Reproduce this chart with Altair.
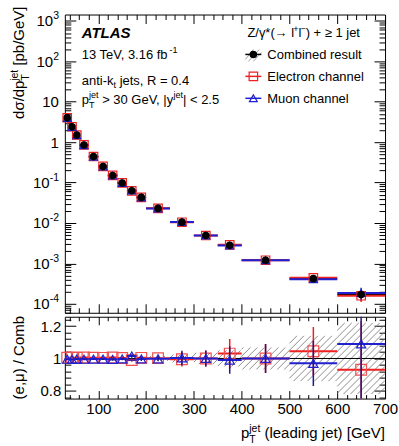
import math
import altair as alt
import pandas as pd

# ---------------- data ----------------
BIN_LO = [30, 40, 50, 60, 80, 100, 120, 140, 160, 180, 200, 250, 300, 350, 400, 500, 600]
BIN_HI = [40, 50, 60, 80, 100, 120, 140, 160, 180, 200, 250, 300, 350, 400, 500, 600, 700]
BIN_CENTER = [35, 45, 55, 70, 90, 110, 130, 150, 170, 190, 225, 275, 325, 375, 450, 550, 650]
COMBINED = [4.0, 2.4, 1.5, 0.85, 0.44, 0.25, 0.15, 0.098, 0.063, 0.043, 0.023, 0.0105,
            0.0049, 0.0028, 0.0012, 0.00042, 0.00017]
RATIO_E = [1.005, 1.006, 1.004, 1.006, 1.005, 1.004, 1.006, 1.003, 0.99, 1.004, 1.002, 0.995,
           1.0, 1.03, 1.0, 1.045, 0.93]
RATIO_MU = [0.995, 0.994, 0.996, 0.995, 0.996, 0.996, 0.994, 0.997, 1.015, 0.997, 0.998, 1.003,
            1.0, 0.99, 1.0, 0.97, 1.09]
ERR_E = [0.004, 0.004, 0.004, 0.004, 0.005, 0.006, 0.007, 0.008, 0.01, 0.012, 0.015, 0.045,
         0.05, 0.09, 0.09, 0.15, 0.3]
ERR_MU = [0.004, 0.004, 0.004, 0.004, 0.005, 0.006, 0.007, 0.008, 0.01, 0.012, 0.015, 0.045,
          0.05, 0.085, 0.09, 0.14, 0.35]
BAND_LO = [200, 250, 300, 350, 400, 500, 600]
BAND_HI = [250, 300, 350, 400, 500, 600, 700]
BAND_HALF = [0.015, 0.025, 0.035, 0.05, 0.068, 0.14, 0.22]

X_TICKS = [100, 200, 300, 400, 500, 600, 700]
Y_DECADES = [-4, -3, -2, -1, 0, 1, 2, 3]
R_TICKS = [0.8, 1.0, 1.2]

# ---------------- layout / style ----------------
W = 321
H_MAIN = 299
H_RATIO = 82
X_DOM = [30, 700]
Y_DOM = [6.0e-5, 1445]
R_DOM = [0.752, 1.258]
FONT = "Liberation Sans"
RED = "#ee2020"
BLUE = "#2020d0"

CW = {' ': 278, '(': 333, ')': 333, '*': 389, '+': 584, ',': 278, '-': 333, '.': 278,
      '/': 278, '<': 584, '=': 584, '>': 584, '[': 278, ']': 278, '|': 260,
      'A': 667, 'C': 722, 'E': 667, 'G': 778, 'L': 556, 'M': 833, 'R': 722, 'S': 667, 'T': 611,
      'V': 667, 'Z': 611,
      'a': 556, 'b': 556, 'c': 500, 'd': 556, 'e': 556, 'f': 278, 'g': 556, 'h': 556, 'i': 222,
      'j': 222, 'k': 500, 'l': 222, 'm': 833, 'n': 556, 'o': 556, 'p': 556, 'r': 333, 's': 500,
      't': 278, 'u': 556, 'y': 500,
      'σ': 600, 'γ': 500, 'μ': 576, '→': 1000, '≥': 549, '−': 584}


def tw(s, size):
    return sum(CW.get(c, 556) for c in s) / 1000.0 * size


def txt(text, x, y, size, angle=0, align="left", weight="normal", style="normal", color="black"):
    return alt.Chart(alt.Data(values=[{"k": 0}])).mark_text(
        text=text, font=FONT, fontSize=size, fontWeight=weight, fontStyle=style,
        angle=angle, align=align, baseline="alphabetic", color=color
    ).encode(x=alt.value(x), y=alt.value(y))


def rich_width(pieces, size):
    small = size * 0.7
    tot = 0
    for kind, t in pieces:
        if kind == "n":
            tot += tw(t, size)
        elif kind in ("sup", "sub"):
            tot += tw(t, small)
        else:
            tot += max(tw(t[0], small), tw(t[1], small))
    return tot


def rich(pieces, x, y, size, angle=0):
    small = size * 0.7
    out = []
    pos = 0
    for kind, t in pieces:
        shift = 0
        if kind == "n":
            stripped = t.lstrip(" ")
            lead = tw(t[:len(t) - len(stripped)], size)
            items = [(stripped, size, 0)]
            w = tw(stripped, size)
            shift = lead
        elif kind == "sup":
            items = [(t, small, size * 0.45)]
            w = tw(t, small)
            shift = -1
        elif kind == "sub":
            items = [(t, small, -size * 0.28)]
            w = tw(t, small)
        else:
            items = [(t[0], small, size * 0.45), (t[1], small, -size * 0.28)]
            w = max(tw(t[0], small), tw(t[1], small))
        for tt, sz, rise in items:
            if angle == 0:
                out.append(txt(tt, x + pos + shift, y - rise, sz))
            else:
                out.append(txt(tt, x - rise, y - pos - shift, sz, angle=270))
        pos += w + shift
    return out


def ax(orient, values, tick, labels=False, **kw):
    return alt.Axis(orient=orient, values=values, tickSize=tick, offset=-tick, domain=False,
                    grid=False, labels=labels, ticks=True, tickColor="black", tickWidth=1,
                    title=None, **kw)


xs = alt.Scale(domain=X_DOM, nice=False, zero=False)
ys = alt.Scale(type="log", domain=Y_DOM, nice=False)
rs = alt.Scale(domain=R_DOM, nice=False, zero=False)

df = pd.DataFrame({"lo": BIN_LO, "hi": BIN_HI, "x": BIN_CENTER, "comb": COMBINED,
                   "re": RATIO_E, "rm": RATIO_MU, "ee": ERR_E, "em": ERR_MU})
df["el"] = df.comb * df.re
df["mu"] = df.comb * df.rm
df["el_lo"] = df.el * (1 - df.ee)
df["el_hi"] = df.el * (1 + df.ee)
df["mu_lo"] = df.mu * (1 - df.em)
df["mu_hi"] = df.mu * (1 + df.em)
df["re_lo"] = df.re - df.ee
df["re_hi"] = df.re + df.ee
df["rm_lo"] = df.rm - df.em
df["rm_hi"] = df.rm + df.em

x_minor = [v for v in range(40, 701, 20) if v % 100 != 0]
y_major = [10.0 ** k for k in Y_DECADES]
y_minor = [m * 10.0 ** k for k in range(-5, 4) for m in range(2, 10)
           if Y_DOM[0] <= m * 10.0 ** k <= Y_DOM[1]]
r_minor = [round(0.76 + 0.04 * i, 2) for i in range(13)]
r_minor = [v for v in r_minor if R_DOM[0] <= v <= R_DOM[1] and v not in (0.8, 1.0, 1.2)]

base = alt.Chart(df)


def carrier(xaxis, yaxis, yfield, yscale):
    return base.mark_point(opacity=0).encode(
        x=alt.X("x:Q", scale=xs, axis=xaxis),
        y=alt.Y(f"{yfield}:Q", scale=yscale, axis=yaxis))


def hrule(yfield, yscale, color, width):
    return base.mark_rule(color=color, strokeWidth=width, clip=True).encode(
        x=alt.X("lo:Q", scale=xs, axis=None), x2="hi:Q",
        y=alt.Y(f"{yfield}:Q", scale=yscale, axis=None))


def vrule(lo, hi, yscale, color, width):
    return base.mark_rule(color=color, strokeWidth=width, clip=True).encode(
        x=alt.X("x:Q", scale=xs, axis=None),
        y=alt.Y(f"{lo}:Q", scale=yscale, axis=None), y2=f"{hi}:Q")


def pts(yfield, yscale, shape, color, size, filled=False):
    if filled:
        m = base.mark_point(shape=shape, filled=True, size=size, color=color, opacity=1)
    else:
        m = base.mark_point(shape=shape, filled=False, size=size, color=color,
                            strokeWidth=1.2, opacity=1)
    return m.encode(x=alt.X("x:Q", scale=xs, axis=None),
                    y=alt.Y(f"{yfield}:Q", scale=yscale, axis=None))


# ---------------- main panel ----------------
main_layers = [
    carrier(ax("bottom", X_TICKS, 9), ax("left", y_major, 11), "comb", ys),
    carrier(ax("bottom", x_minor, 5), ax("left", y_minor, 6), "comb", ys),
    carrier(ax("top", X_TICKS, 9), ax("right", y_major, 11), "comb", ys),
    carrier(ax("top", x_minor, 5), ax("right", y_minor, 6), "comb", ys),
    hrule("comb", ys, "black", 1.2),
    hrule("el", ys, RED, 2), vrule("el_lo", "el_hi", ys, RED, 1.5),
    hrule("mu", ys, BLUE, 2), vrule("mu_lo", "mu_hi", ys, BLUE, 1.5),
    pts("el", ys, "square", RED, 72),
    pts("mu", ys, "triangle-up", BLUE, 62),
    pts("comb", ys, "circle", "black", 58, filled=True),
]

# y tick labels 10^k
for k in Y_DECADES:
    if k == 0:
        parts = ("1", "")
    elif k == 1:
        parts = ("10", "")
    else:
        parts = ("10", "-" + str(-k) if k < 0 else str(k))
    supw = tw(parts[1], 10.5) if parts[1] else 0
    xend = -6 - supw
    main_layers.append(
        alt.Chart(alt.Data(values=[{"k": 0}])).mark_text(
            text=parts[0], font=FONT, fontSize=15, align="right", baseline="alphabetic",
            dy=5.4, color="black").encode(
            x=alt.value(xend),
            y=alt.YDatum(10.0 ** k, type="quantitative", scale=ys, axis=None)))
    if parts[1]:
        main_layers.append(
            alt.Chart(alt.Data(values=[{"k": 0}])).mark_text(
                text=parts[1], font=FONT, fontSize=10.5, align="left", baseline="alphabetic",
                dy=-1.6, color="black").encode(
                x=alt.value(xend + 0.3),
                y=alt.YDatum(10.0 ** k, type="quantitative", scale=ys, axis=None)))

# info text (top left)
main_layers.append(txt("ATLAS", 17, 23.5, 15, weight="bold", style="italic"))
main_layers += rich([("n", "13 TeV, 3.16 fb"), ("sup", "-1")], 17, 44.5, 13)
main_layers += rich([("n", "anti-k"), ("sub", "t"), ("n", " jets, R = 0.4")], 17, 70.5, 13)
main_layers += rich([("n", "p"), ("ss", ("jet", "T")), ("n", " > 30 GeV, |y"), ("sup", "jet"),
                     ("n", "| < 2.5")], 17, 90, 13)

# legend (top right)
main_layers += rich([("n", "Z/γ*(→ l"), ("sup", "+"), ("n", "l"), ("sup", "−"),
                     ("n", ") + ≥ 1 jet")], 183, 23, 13)
LEG_X = 189
LEG_Y = [40, 62, 84]
LEG_TXT = ["Combined result", "Electron channel", "Muon channel"]
for (x1, y1, x2, y2) in [(181, 45, 189, 35), (184, 47, 195, 35), (189, 47, 197, 38)]:
    main_layers.append(
        alt.Chart(alt.Data(values=[{"k": 0}])).mark_rule(color="#888888", strokeWidth=0.8).encode(
            x=alt.value(x1), y=alt.value(y1), x2=alt.value(x2), y2=alt.value(y2)))
for i, (yy, col) in enumerate(zip(LEG_Y, ["black", RED, BLUE])):
    main_layers.append(
        alt.Chart(alt.Data(values=[{"k": 0}])).mark_rule(color=col, strokeWidth=1.5).encode(
            x=alt.value(LEG_X - 8), x2=alt.value(LEG_X + 8), y=alt.value(yy)))
    main_layers.append(txt(LEG_TXT[i], 203, yy + 4.7, 13))
main_layers.append(
    alt.Chart(alt.Data(values=[{"k": 0}])).mark_point(
        shape="circle", filled=True, size=58, color="black", opacity=1).encode(
        x=alt.value(LEG_X), y=alt.value(LEG_Y[0])))
main_layers.append(
    alt.Chart(alt.Data(values=[{"k": 0}])).mark_point(
        shape="square", filled=False, size=72, color=RED, strokeWidth=1.2, opacity=1).encode(
        x=alt.value(LEG_X), y=alt.value(LEG_Y[1])))
main_layers.append(
    alt.Chart(alt.Data(values=[{"k": 0}])).mark_point(
        shape="triangle-up", filled=False, size=62, color=BLUE, strokeWidth=1.2, opacity=1).encode(
        x=alt.value(LEG_X), y=alt.value(LEG_Y[2])))

# axis titles
yt = [("n", "dσ/dp"), ("ss", ("jet", "T")), ("n", " [pb/GeV]")]
L = rich_width(yt, 15)
main_layers += rich(yt, -40.5, -8 + L, 15, angle=270)
rt = [("n", "(e,μ) / Comb")]
L2 = rich_width(rt, 15)
main_layers += rich(rt, -40.5, 344 + L2 / 2, 15, angle=270)
xt = [("n", "p"), ("ss", ("jet", "T")), ("n", " (leading jet) [GeV]")]
L3 = rich_width(xt, 15)
main_layers += rich(xt, W - L3, 425, 15)

# bounds anchor so the plot area lands at (64, 13)
main_layers.append(
    alt.Chart(alt.Data(values=[{"k": 0}])).mark_rule(color="white", strokeWidth=1).encode(
        x=alt.value(-63.5), x2=alt.value(-63), y=alt.value(-12.5), y2=alt.value(-12)))

main = alt.layer(*main_layers).resolve_axis(x="independent", y="independent").properties(
    width=W, height=H_MAIN)

# ---------------- ratio panel ----------------
PX = W / (X_DOM[1] - X_DOM[0])
PY = H_RATIO / (R_DOM[1] - R_DOM[0])
segs = []
STEP = 7.0
for lo, hi, h in zip(BAND_LO, BAND_HI, BAND_HALF):
    px0 = (lo - X_DOM[0]) * PX
    px1 = (hi - X_DOM[0]) * PX
    pl, ph = -h * PY, h * PY
    kmin = math.floor((px0 - ph) / STEP)
    kmax = math.ceil((px1 - pl) / STEP)
    for k in range(kmin, kmax + 1):
        c = k * STEP
        u0 = max(pl, px0 - c)
        u1 = min(ph, px1 - c)
        if u1 - u0 > 0.6:
            segs.append({"hx": X_DOM[0] + (c + u0) / PX, "hy": 1 + u0 / PY,
                         "hx2": X_DOM[0] + (c + u1) / PX, "hy2": 1 + u1 / PY})
hatch = alt.Chart(pd.DataFrame(segs)).mark_rule(color="#808080", strokeWidth=0.9, clip=True).encode(
    x=alt.X("hx:Q", scale=xs, axis=None), x2="hx2:Q",
    y=alt.Y("hy:Q", scale=rs, axis=None), y2="hy2:Q")

one_line = alt.Chart(alt.Data(values=[{"k": 0}])).mark_rule(color="black", strokeWidth=1).encode(
    y=alt.YDatum(1, type="quantitative", scale=rs, axis=None))

ratio_layers = [
    carrier(ax("bottom", X_TICKS, 8, labels=True, labelFont=FONT, labelFontSize=15,
               labelPadding=3, labelFlush=False, labelOverlap=False, labelColor="black",
               format="d"),
            ax("left", R_TICKS, 11, labels=True, labelFont=FONT, labelFontSize=15,
               labelPadding=4, labelColor="black",
               labelExpr="datum.value == 1 ? '1' : format(datum.value, '.1f')"), "re", rs),
    carrier(ax("bottom", x_minor, 4), ax("left", r_minor, 6), "re", rs),
    carrier(ax("top", X_TICKS, 8), ax("right", R_TICKS, 11), "re", rs),
    carrier(ax("top", x_minor, 4), ax("right", r_minor, 6), "re", rs),
    hatch,
    one_line,
    hrule("re", rs, RED, 2), vrule("re_lo", "re_hi", rs, RED, 1.5),
    pts("re", rs, "square", "#f05050", 115),
    hrule("rm", rs, BLUE, 2), vrule("rm_lo", "rm_hi", rs, "#1a1a8a", 1.5),
    pts("rm", rs, "triangle-up", BLUE, 85),
]
ratio = alt.layer(*ratio_layers).resolve_axis(x="independent", y="independent").properties(
    width=W, height=H_RATIO)

chart = alt.vconcat(main, ratio, spacing=4, bounds="flush").properties(
    padding=0
).configure_view(stroke="black", strokeWidth=1)

chart.save("out.html", embed_options={"renderer": "svg", "actions": False})
